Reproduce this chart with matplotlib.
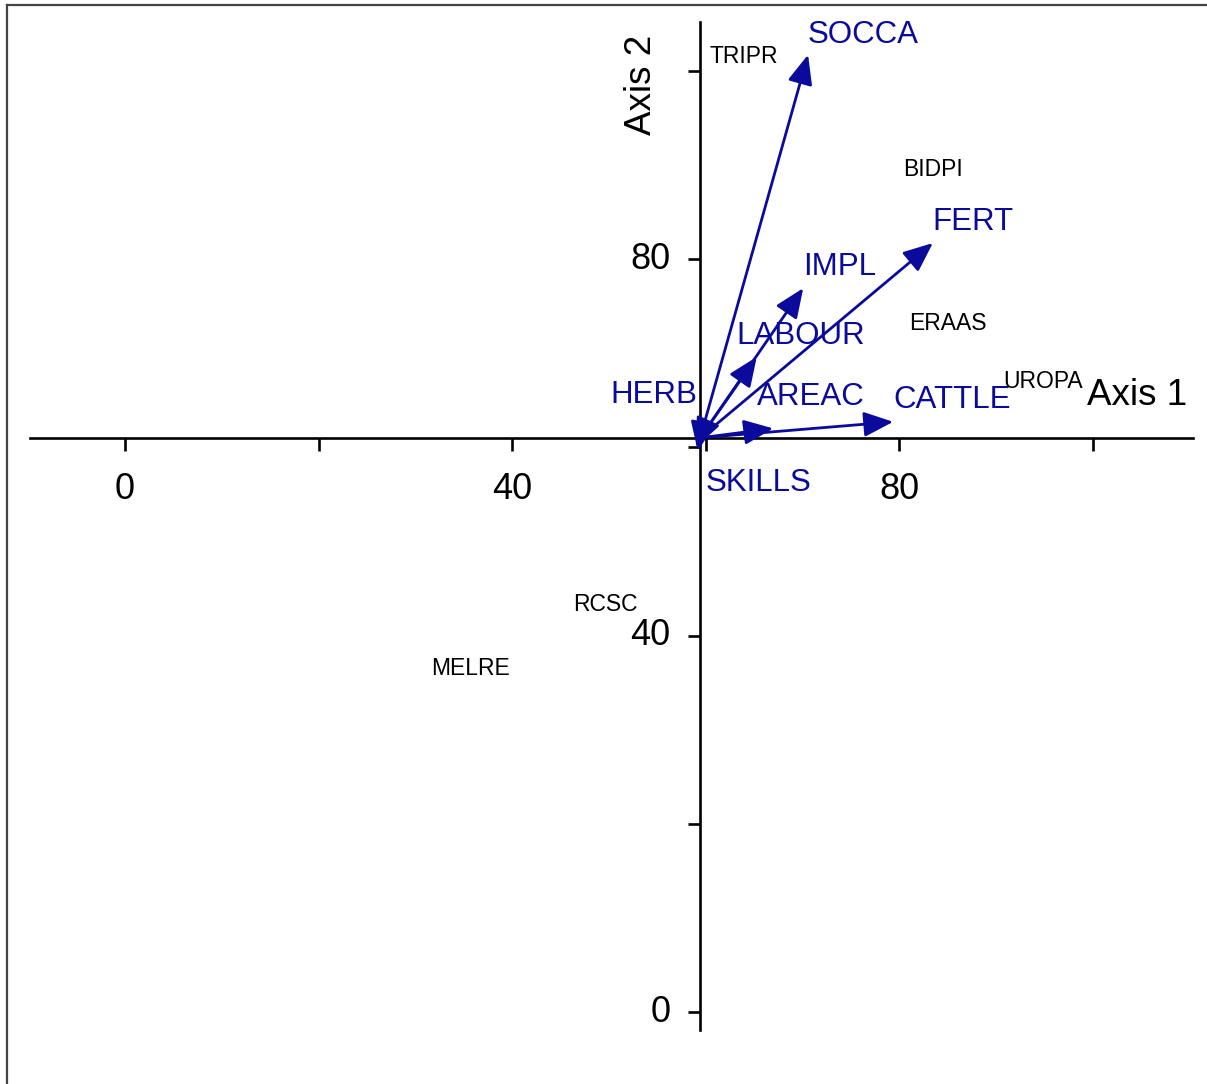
import matplotlib
matplotlib.use("Agg")
import matplotlib.pyplot as plt
from matplotlib.lines import Line2D

plt.rcParams['font.family'] = ['Liberation Sans', 'DejaVu Sans']

# environmental variables (arrow tips, axis units)
env_names = ["SOCCA", "FERT", "IMPL", "LABOUR", "AREAC", "CATTLE", "HERB", "SKILLS"]
env_x = [70.6, 83.5, 70.1, 65.3, 67.0, 79.4, 59.0, 59.2]
env_y = [101.7, 81.7, 76.9, 69.6, 62.0, 62.7, 60.0, 59.6]

# species scores
spp_names = ["TRIPR", "BIDPI", "ERAAS", "UROPA", "RCSC", "MELRE"]
spp_x = [60.4, 80.4, 81.0, 90.8, 46.3, 31.6]
spp_y = [101.5, 89.5, 73.1, 67.0, 43.3, 36.5]

# axes cross here
origin = (59.45, 61.0)
ticks = [0, 20, 40, 60, 80, 100]
tick_labels = ["0", "", "40", "", "80", ""]

blue = '#0A0A9C'

# label offsets (pixels) relative to arrow tips
lab_off = {"SOCCA": (0, 20, 'left'), "FERT": (0, 21, 'left'), "IMPL": (0, 21, 'left'),
           "LABOUR": (-20, 21, 'left'), "AREAC": (-16, 31, 'left'), "CATTLE": (0, 22, 'left'),
           "HERB": (1, 52, 'right'), "SKILLS": (8, -32, 'left')}

fig = plt.figure(figsize=(12.07, 10.84), dpi=100)
ax = fig.add_axes([0, 0, 1, 1])
ax.axis('off')
# pixel 125 -> 0, 9.675 px per unit; pixel 1012 -> 0, 9.4125 px per unit
ax.set_xlim(-125 / 9.675, (1207 - 125) / 9.675)
ax.set_ylim((1012 - 1084) / 9.4125, 1012 / 9.4125)

# frame (top and left only)
fig.add_artist(Line2D([7 / 1207, 1], [1 - 5 / 1084, 1 - 5 / 1084], color='#444444', lw=1.6))
fig.add_artist(Line2D([7 / 1207, 7 / 1207], [0, 1 - 5 / 1084], color='#444444', lw=1.6))

# axis lines
ax.plot([-9.8, 110.4], [origin[1], origin[1]], color='black', lw=1.9)
ax.plot([origin[0], origin[0]], [-1.9, 105.2], color='black', lw=1.9)
ax.plot(ticks, [origin[1]] * len(ticks), ls='none', marker=3, ms=9, mew=1.9, color='black')
ax.plot([origin[0]] * len(ticks), ticks, ls='none', marker=0, ms=9, mew=1.9, color='black')

for t, lab in zip(ticks, tick_labels):
    if lab:
        ax.annotate(lab, (t, origin[1]), xytext=(0, -52), textcoords='offset pixels',
                    ha='center', va='center', fontsize=26)
        ax.annotate(lab, (origin[0], t), xytext=(-30, 0), textcoords='offset pixels',
                    ha='right', va='center', fontsize=26)

ax.annotate("Axis 1", (110.4, origin[1]), xytext=(-56, 42), textcoords='offset pixels',
            ha='center', va='center', fontsize=26.5)
ax.annotate("Axis 2", (origin[0], 105.2), xytext=(-59, -63), textcoords='offset pixels',
            ha='center', va='center', fontsize=26.5, rotation=90)

# arrows
for name, x, y in zip(env_names, env_x, env_y):
    ax.annotate("", xy=(x, y), xytext=origin,
                arrowprops=dict(arrowstyle='-|>,head_length=0.4,head_width=0.17',
                                mutation_scale=45, color=blue, lw=2.0,
                                shrinkA=0, shrinkB=0))
    dx, dy, ha = lab_off[name]
    ax.annotate(name, (x, y), xytext=(dx, dy), textcoords='offset pixels',
                ha=ha, va='center', fontsize=22.5, color=blue)

# species
for name, x, y in zip(spp_names, spp_x, spp_y):
    ax.text(x, y, name, ha='left', va='center', fontsize=16.5, color='black')

fig.savefig("out.png", dpi=100)
